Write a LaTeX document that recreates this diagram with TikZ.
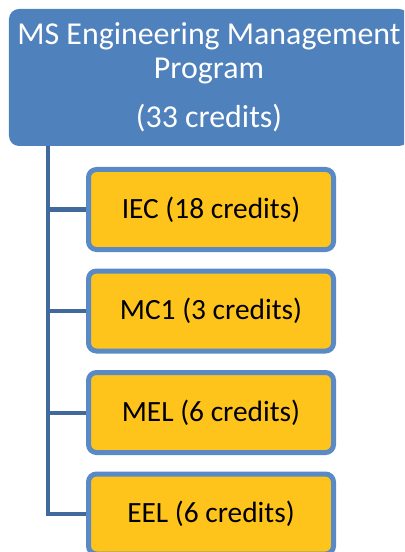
\documentclass[tikz,border=0pt]{standalone}
\usepackage{fontspec}
\setmainfont{Carlito}
\definecolor{progblue}{HTML}{4F81BD}
\definecolor{edgeblue}{HTML}{5A8AC6}
\definecolor{lineblue}{HTML}{41699C}
\definecolor{gold}{HTML}{FFC41C}
\tikzset{
  progbox/.style={fill=progblue, rounded corners=10bp, text=white, align=center,
    minimum width=400bp, minimum height=137bp, inner sep=0pt,
    font=\fontsize{32}{34}\selectfont},
  credbox/.style={draw=edgeblue, line width=5bp, fill=gold, rounded corners=8bp,
    minimum width=245bp, minimum height=80bp, inner sep=0pt,
    font=\fontsize{29.5}{34}\selectfont},
  conn/.style={draw=lineblue, line width=4bp}
}
\begin{document}
\begin{tikzpicture}[x=1bp,y=-1bp]
	\useasboundingbox (0,0) rectangle (404,552);
	\clip (0,0) rectangle (404,552);
	\node[progbox] (prog) at (209,77.5) {MS Engineering Management\\Program\\[15bp](33 credits)};
	\node[credbox] (iec) at (211,209.5) {IEC (18 credits)};
	\node[credbox] (mc) at (211,311) {MC1 (3 credits)};
	\node[credbox] (mel) at (211,412.5) {MEL (6 credits)};
	\node[credbox] (eel) at (211,514) {EEL (6 credits)};
	\coordinate (spine) at (48,146);
	\draw[conn] (spine) |- (eel.west);
	\draw[conn] (spine |- iec.west) -- (iec.west);
	\draw[conn] (spine |- mc.west) -- (mc.west);
	\draw[conn] (spine |- mel.west) -- (mel.west);
\end{tikzpicture}
\end{document}
